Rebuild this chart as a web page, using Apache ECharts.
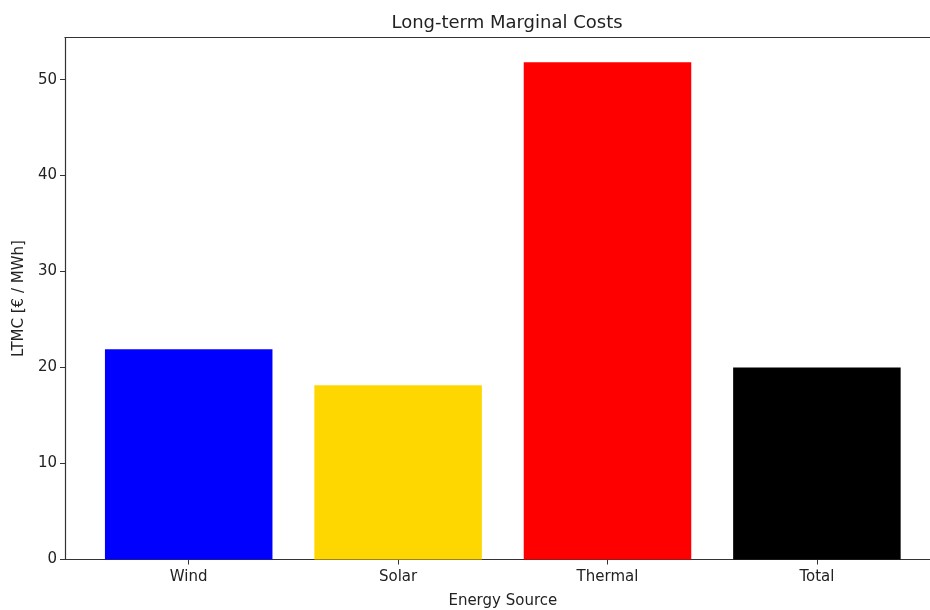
<!DOCTYPE html>
<html>
<head>
<meta charset="utf-8">
<script src="https://cdn.jsdelivr.net/npm/echarts@6/dist/echarts.min.js"></script>
<style>
  html, body { margin: 0; padding: 0; background: #fff; }
  #chart { width: 930px; height: 610px; }
</style>
</head>
<body>
<div id="chart"></div>
<script>
// Long-term marginal cost per energy source
const categories = ['Wind', 'Solar', 'Thermal', 'Total'];
const ltmcValues = [21.9, 18.15, 51.8, 20.0];
const barColors = ['#0000ff', '#ffd700', '#ff0000', '#000000'];
const yTicks = [0, 10, 20, 30, 40, 50];

const yMax = 54.39;
const FONT = 'DejaVu Sans';
const TEXT = '#222';
const AXIS = '#333';
const spine = { show: true, lineStyle: { color: AXIS, width: 1.2 } };

const chart = echarts.init(document.getElementById('chart'), null, { renderer: 'canvas' });

chart.setOption({
  animation: false,
  backgroundColor: '#ffffff',
  title: {
    text: 'Long-term Marginal Costs',
    left: 502, top: 9, textAlign: 'center',
    textStyle: { fontFamily: FONT, fontSize: 18, fontWeight: 'normal', color: TEXT }
  },
  grid: [
    // outer frame: left, bottom and top spines with the value axis
    { left: 65, top: 37.5, width: 875, height: 522, outerBoundsMode: 'none' },
    // inner grid holding the bars
    { left: 84, top: 37.5, width: 837.6, height: 522, outerBoundsMode: 'none' }
  ],
  xAxis: [
    { gridIndex: 0, type: 'value', min: 0, max: 1, position: 'bottom',
      axisLine: spine, axisTick: { show: false }, axisLabel: { show: false }, splitLine: { show: false } },
    { gridIndex: 0, type: 'value', min: 0, max: 1, position: 'top',
      axisLine: spine, axisTick: { show: false }, axisLabel: { show: false }, splitLine: { show: false } },
    { gridIndex: 1, type: 'category', data: categories,
      axisLine: { show: false },
      axisTick: { show: true, alignWithLabel: true, length: 5, lineStyle: { color: AXIS, width: 1 } },
      axisLabel: { fontFamily: FONT, fontSize: 15, color: TEXT, margin: 10 },
      name: 'Energy Source', nameLocation: 'middle', nameGap: 34,
      nameTextStyle: { fontFamily: FONT, fontSize: 15, color: TEXT } }
  ],
  yAxis: [
    { gridIndex: 0, type: 'value', min: 0, max: yMax, interval: 10,
      splitLine: { show: false },
      axisLine: spine,
      axisTick: { show: true, length: 5, customValues: yTicks, lineStyle: { color: AXIS, width: 1 } },
      axisLabel: { fontFamily: FONT, fontSize: 15, color: TEXT, margin: 8, customValues: yTicks },
      name: 'LTMC [€ / MWh]', nameLocation: 'middle', nameGap: 36, nameRotate: 90,
      nameTextStyle: { fontFamily: FONT, fontSize: 15, color: TEXT } },
    { gridIndex: 1, type: 'value', min: 0, max: yMax, show: false, splitLine: { show: false } }
  ],
  series: [{
    type: 'bar',
    xAxisIndex: 2, yAxisIndex: 1,
    barWidth: '80%',
    data: ltmcValues.map((v, i) => ({ value: v, itemStyle: { color: barColors[i] } }))
  }]
});
</script>
</body>
</html>
